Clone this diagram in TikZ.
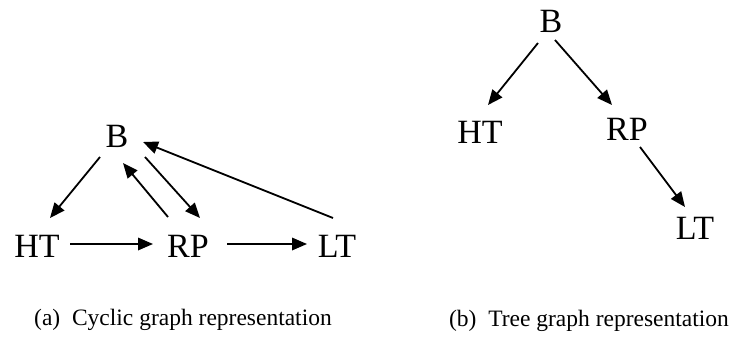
\documentclass[tikz,border=0pt]{standalone}
\usepackage{fontspec}
\setmainfont{Liberation Serif}
\usetikzlibrary{arrows.meta,calc}
\tikzset{
  lbl/.style={inner sep=0pt, anchor=base, font=\fontsize{34}{38}\selectfont},
  captext/.style={inner sep=0pt, anchor=base, font=\fontsize{23.5}{28}\selectfont},
  arr/.style={line width=1.8pt, -{Triangle[length=15pt,width=12.5pt]}},
}
\begin{document}
\begin{tikzpicture}[x=1pt,y=-1pt]
\useasboundingbox (0,0) rectangle (733,337);
% (a) cyclic graph
\node[lbl] (aB)  at (117,147) {B};
\node[lbl] (aHT) at (37,257) {HT};
\node[lbl] (aRP) at (188,257) {RP};
\node[lbl] (aLT) at (337,257) {LT};
\draw[arr] ($(aB.base)+(-17,10)$) -- ($(aHT.base)+(13,-39)$);
\draw[arr] ($(aRP.base)+(-20,-40)$) -- ($(aB.base)+(6,16)$);
\draw[arr] ($(aB.base)+(28,10)$) -- ($(aRP.base)+(12,-39)$);
\draw[arr] ($(aLT.base)+(-4,-39)$) -- ($(aB.base)+(26,-5)$);
\draw[arr] ($(aHT.base)+(33,-13)$) -- ($(aRP.base)+(-35,-13)$);
\draw[arr] ($(aRP.base)+(39,-13)$) -- ($(aLT.base)+(-30,-13)$);
% (b) tree graph
\node[lbl] (bB)  at (551,33) {B};
\node[lbl] (bHT) at (480,143) {HT};
\node[lbl] (bRP) at (627,140) {RP};
\node[lbl] (bLT) at (695,239) {LT};
\draw[arr] ($(bB.base)+(-13,10)$) -- ($(bHT.base)+(8,-38)$);
\draw[arr] ($(bB.base)+(4,7)$) -- ($(bRP.base)+(-15,-35)$);
\draw[arr] ($(bRP.base)+(13,7)$) -- ($(bLT.base)+(-10,-32)$);
% captions
\node[captext] (capa) at (183,325) {(a)\enspace Cyclic graph representation};
\node[captext] (capb) at (589,326) {(b)\enspace Tree graph representation};
\end{tikzpicture}
\end{document}
